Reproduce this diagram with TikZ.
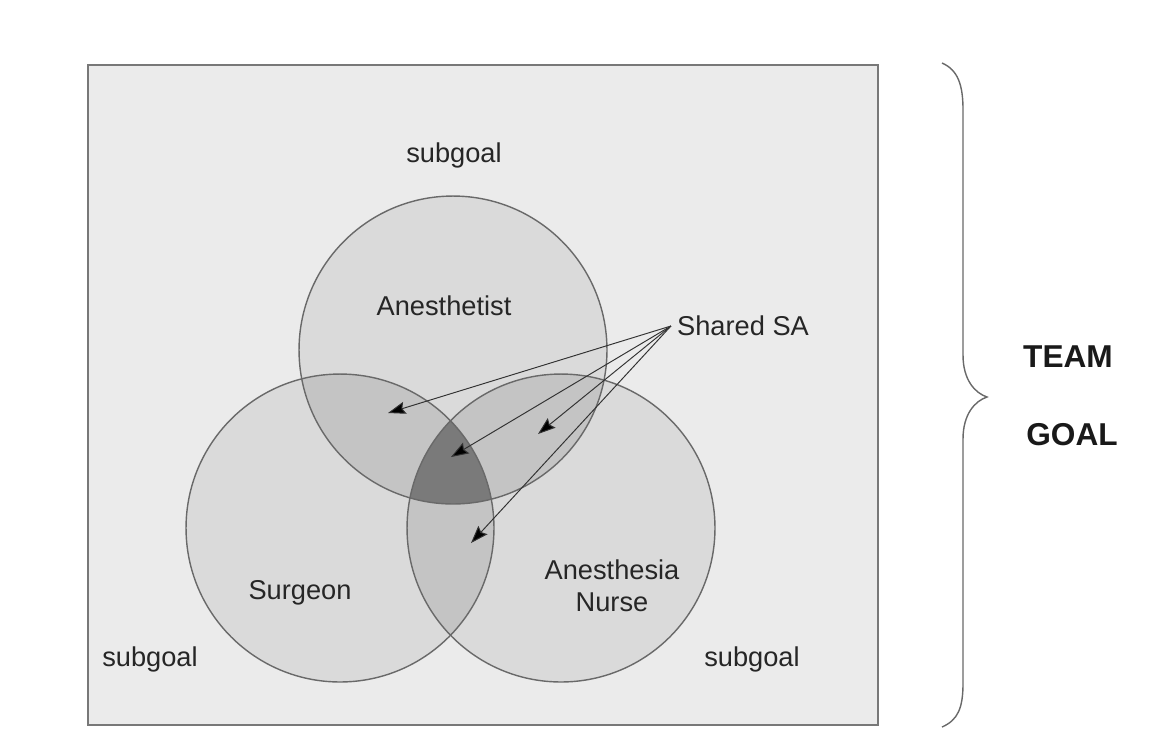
\documentclass[tikz,border=0pt]{standalone}
\usepackage{fontspec}
\setmainfont{Liberation Sans}
\usetikzlibrary{arrows.meta, positioning}
\definecolor{BoxF}{RGB}{235,235,235}
\definecolor{OneF}{RGB}{218,218,218}
\definecolor{TwoF}{RGB}{196,196,196}
\definecolor{AllF}{RGB}{122,122,122}
\definecolor{RimC}{RGB}{105,105,105}
\definecolor{DG}{RGB}{50,50,50}

\begin{document}
\begin{tikzpicture}[
  x=0.02cm, y=-0.02cm,
  lbl/.style={font=\fontsize{15.5}{18}\selectfont, text=black!85, align=center},
  big/.style={font=\fontsize{18}{21}\selectfont\bfseries, text=black!90},
  rim/.style={circle, draw=RimC, line width=0.8pt, minimum size=6.16cm, inner sep=0pt},
  ptr/.style={draw=DG, line width=0.55pt, -{Stealth[length=10pt, width=7pt, inset=1.5pt, fill=black]}}
]
\useasboundingbox (0,0) rectangle (1158,738);

% Frame
\draw[draw=RimC!90, line width=1pt, fill=BoxF] (88,65) rectangle (878,725);

% Circle centres
\coordinate (cA) at (453,350);
\coordinate (cS) at (340,528);
\coordinate (cN) at (561,528);

% Shading of the overlaps
\fill[OneF] (cA) circle (3.08cm) (cS) circle (3.08cm) (cN) circle (3.08cm);
\begin{scope}
  \clip (cA) circle (3.08cm);
  \fill[TwoF] (cS) circle (3.08cm) (cN) circle (3.08cm);
\end{scope}
\begin{scope}
  \clip (cS) circle (3.08cm);
  \fill[TwoF] (cN) circle (3.08cm);
\end{scope}
\begin{scope}
  \clip (cA) circle (3.08cm);
  \clip (cS) circle (3.08cm);
  \fill[AllF] (cN) circle (3.08cm);
\end{scope}

% Circles
\node[rim] (anes) at (cA) {};
\node[rim] (surg) at (cS) {};
\node[rim] (nurse) at (cN) {};

% Labels
\node[lbl] (anesT)  at (444,306) {Anesthetist};
\node[lbl] (surgT)  at (300,593) {Surgeon};
\node[lbl] (nurseT) at (612,586) {Anesthesia\\Nurse};
\node[lbl] (subT)   at (454,155) {subgoal};
\node[lbl] (subL)   at (150,659) {subgoal};
\node[lbl] (subR)   at (752,659) {subgoal};
\node[lbl] (sa)     at (743,326) {Shared SA};

% Pointers
\coordinate (p1) at (388,413);
\coordinate (p2) at (538,434);
\coordinate (p3) at (451,457);
\coordinate (p4) at (471,543);
\foreach \p in {p1,p2,p3,p4}
  \draw[ptr] (sa.west) -- (\p);

% Brace
\draw[draw=RimC, line width=0.8pt]
  (942,63) .. controls (958,70) and (963,85) .. (963,110)
  -- (963,355) .. controls (963,380) and (975,393) .. (987,397)
  .. controls (975,401) and (963,414) .. (963,439)
  -- (963,683) .. controls (963,708) and (958,720) .. (942,727);
\node[big] (team) at (1068,357) {TEAM};
\node[big] (goal) at (1072,435) {GOAL};
\end{tikzpicture}
\end{document}
